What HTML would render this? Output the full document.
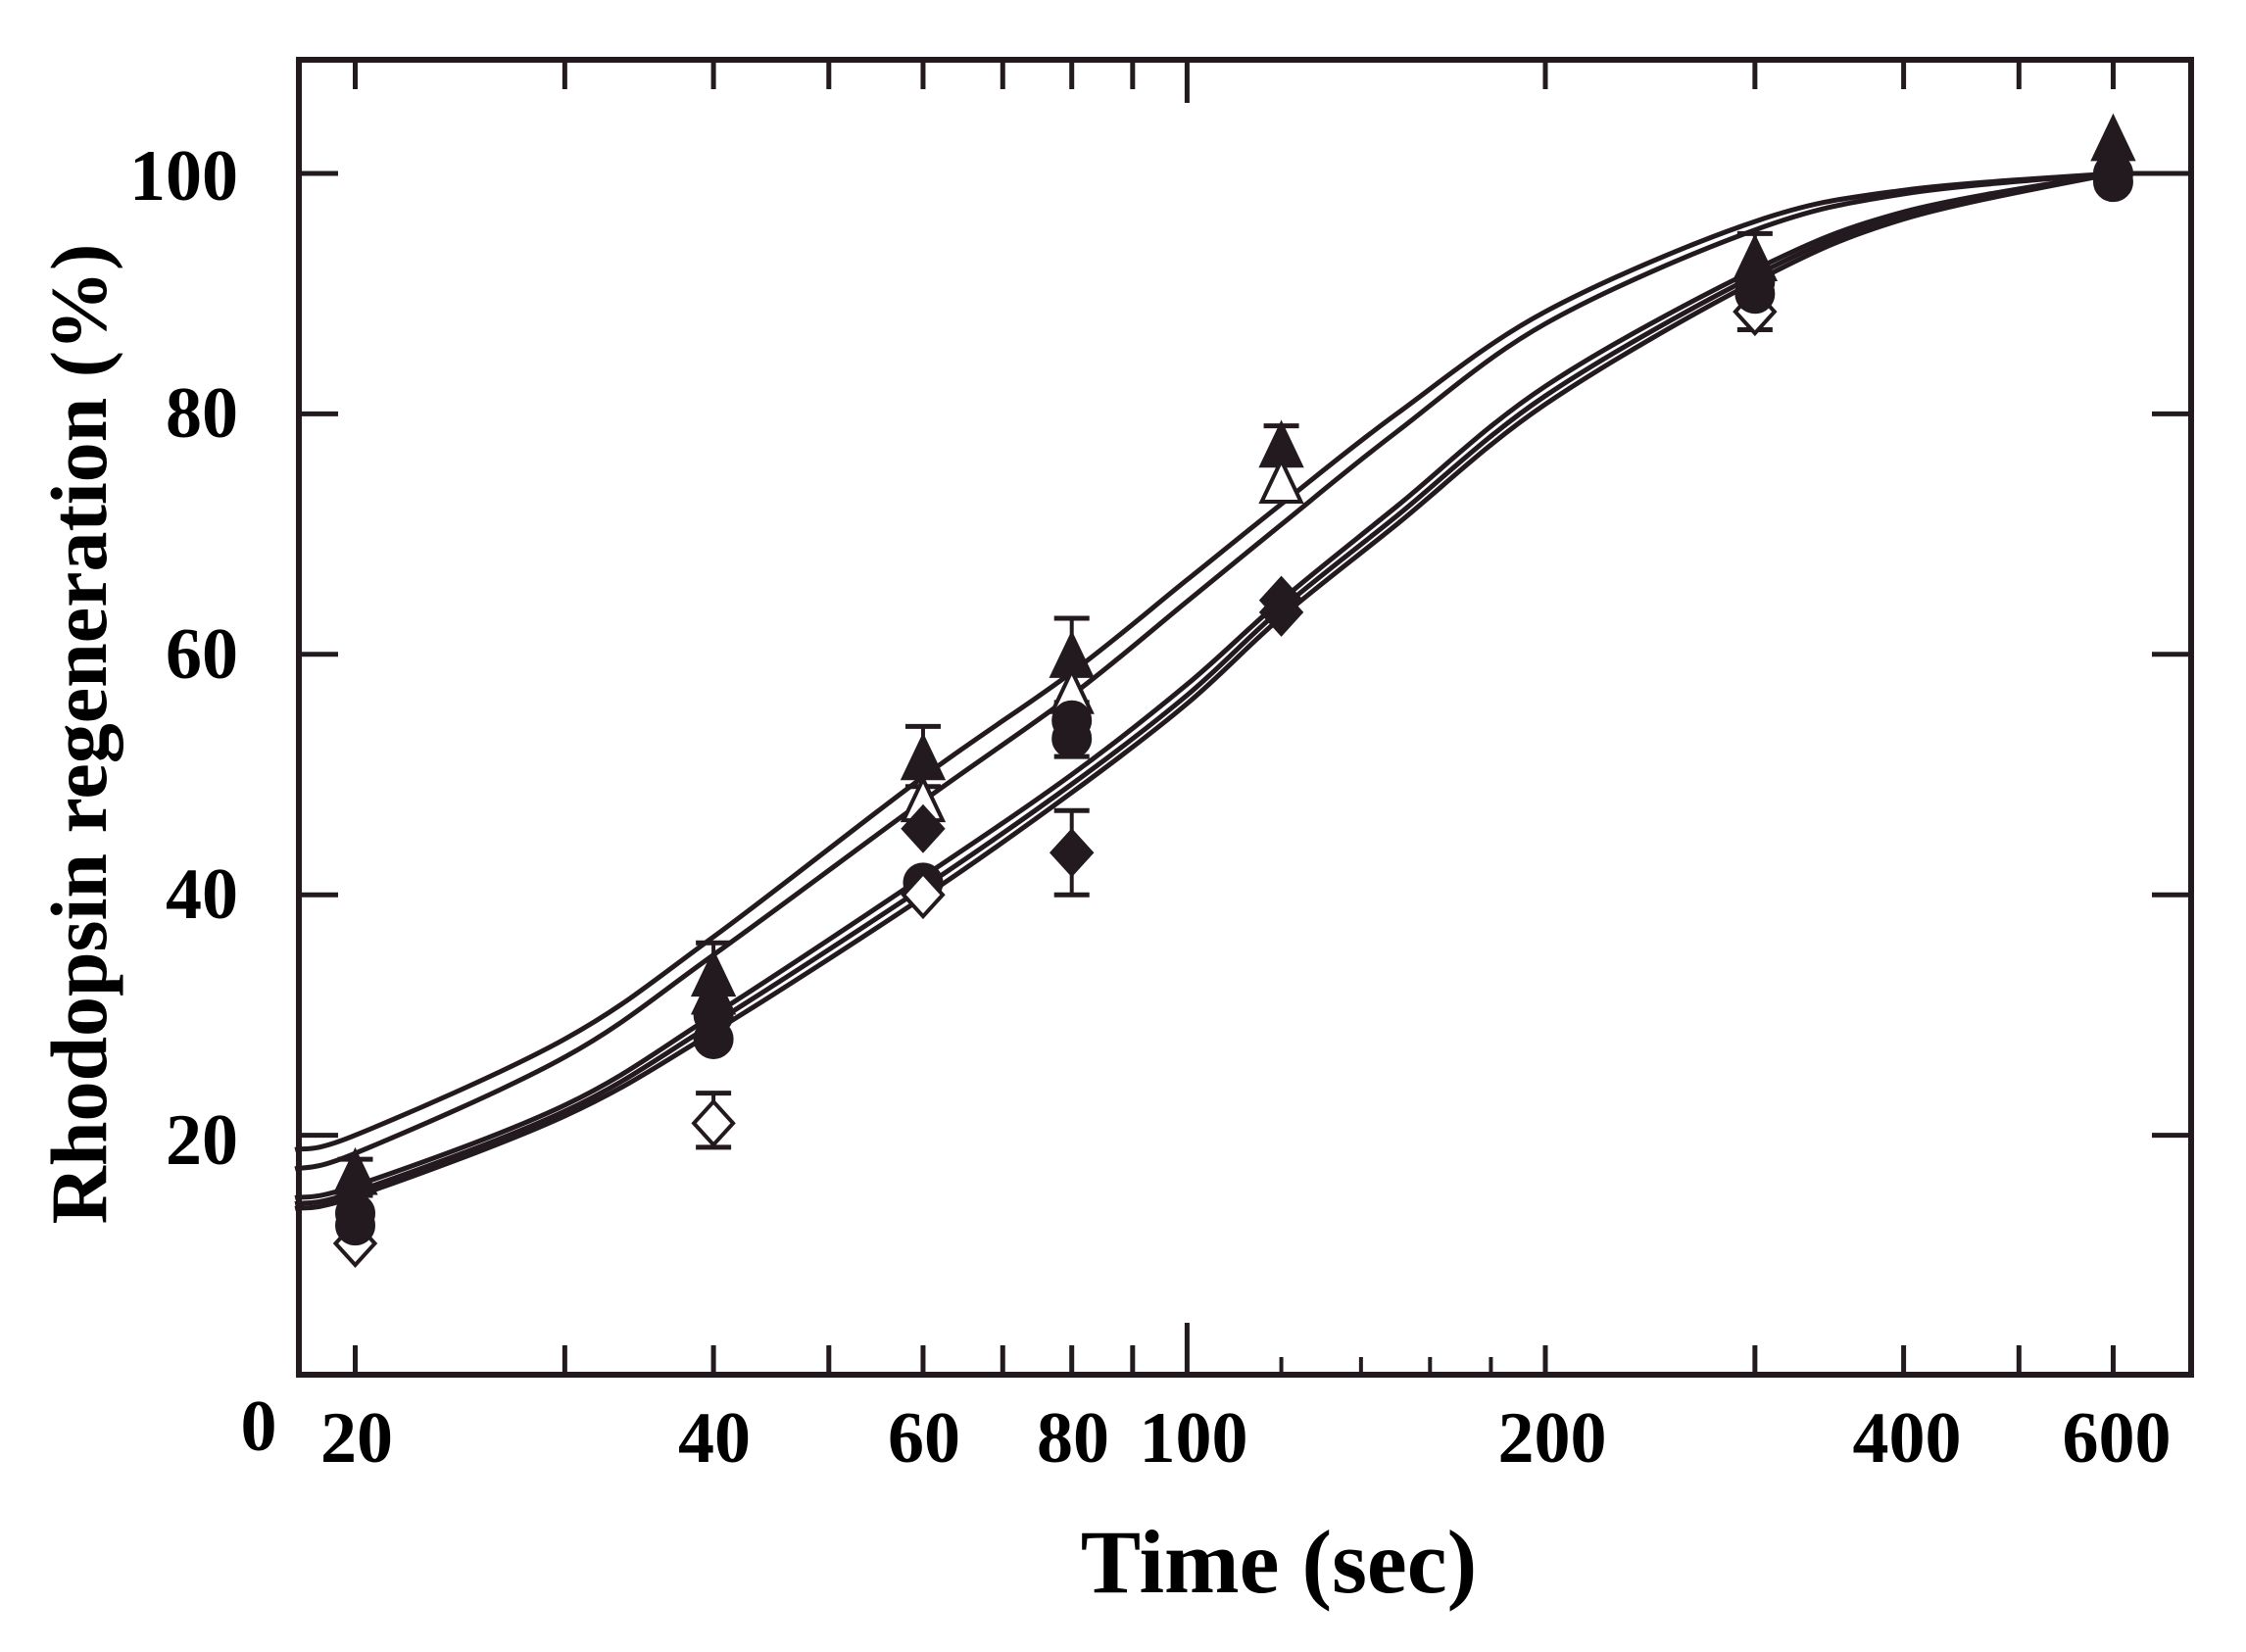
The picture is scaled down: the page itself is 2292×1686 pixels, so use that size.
<!DOCTYPE html>
<html><head><meta charset="utf-8"><style>
html,body{margin:0;padding:0;background:#fff}
svg{display:block}
text{font-family:"Liberation Serif",serif;font-weight:bold;fill:#000}
</style></head><body>
<svg id="s" width="2292" height="1686" viewBox="0 0 2292 1686" xmlns="http://www.w3.org/2000/svg">
<g id="plot" stroke="#231a20" fill="none"></g>
<g id="axes" stroke="#231a20" stroke-width="6" fill="none">
<rect x="305" y="61" width="1931" height="1342"/>
</g>
<g font-size="74" text-anchor="end">
<text x="243" y="204">100</text>
<text x="243" y="446">80</text>
<text x="243" y="692">60</text>
<text x="243" y="937">40</text>
<text x="243" y="1188">20</text>
</g>
<g font-size="74" text-anchor="middle">
<text x="264" y="1480">0</text>
<text x="364" y="1492">20</text>
<text x="729" y="1492">40</text>
<text x="943" y="1492">60</text>
<text x="1095" y="1492">80</text>
<text x="1218" y="1492">100</text>
<text x="1584" y="1492">200</text>
<text x="1946" y="1492">400</text>
<text x="2160" y="1492">600</text>
</g>
<text x="1305" y="1625" font-size="92" text-anchor="middle">Time (sec)</text>
<text transform="translate(108,749) rotate(-90)" font-size="82" text-anchor="middle">Rhodopsin regeneration (%)</text>
</svg>
<script>
var NS="http://www.w3.org/2000/svg";
function X(t){return 362.5+1214.5*Math.log10(t/20);}
function Y(v){return 1404-12.27*v;}
var plot=document.getElementById('plot'),axes=document.getElementById('axes');
function el(n,a,p){var e=document.createElementNS(NS,n);for(var k in a)e.setAttribute(k,a[k]);(p||plot).appendChild(e);return e;}
var xt=[20,30,40,50,60,70,80,90,200,300,400,500,600];
xt.forEach(function(t){var x=X(t);el('line',{x1:x,y1:1403,x2:x,y2:1373,'stroke-width':5},axes);el('line',{x1:x,y1:61,x2:x,y2:91,'stroke-width':5},axes);});
[120,140,160,180].forEach(function(t){var x=X(t);el('line',{x1:x,y1:1403,x2:x,y2:1385,'stroke-width':4},axes);});
var x100=X(100);el('line',{x1:x100,y1:1403,x2:x100,y2:1350,'stroke-width':5},axes);el('line',{x1:x100,y1:61,x2:x100,y2:105,'stroke-width':5},axes);
[20,40,60,80,100].forEach(function(v){var y=Y(v);el('line',{x1:305,y1:y,x2:345,y2:y,'stroke-width':5},axes);el('line',{x1:2236,y1:y,x2:2196,y2:y,'stroke-width':5},axes);});
function curve(T,V){
 var P=T.map(function(t,i){return [X(t),Y(V[i])];});
 var d='M'+P[0][0]+','+P[0][1];
 for(var i=0;i<P.length-1;i++){
  var p0=P[i-1]||P[i],p1=P[i],p2=P[i+1],p3=P[i+2]||P[i+1];
  var c1=[p1[0]+(p2[0]-p0[0])/6,p1[1]+(p2[1]-p0[1])/6],c2=[p2[0]-(p3[0]-p1[0])/6,p2[1]-(p3[1]-p1[1])/6];
  d+=' C'+c1+' '+c2+' '+p2;
 }
 d+=' L2236,'+P[P.length-1][1];
 el('path',{d:d,'stroke-width':5});
}
var T=[17.8,20,30,40,60,80,100,120,150,200,300,400,600];
curve(T,[18.8,20,28,36.5,49.8,58.5,66.2,72.5,80,88.5,96,98.6,100]);
curve(T,[17.2,18.5,26.5,35,47.8,56.6,64.4,70.8,78.5,87.5,95.3,98.3,100]);
curve(T,[14.8,15.8,22.5,30,41.5,50,57.5,64.5,72.3,82.3,92,96.8,100]);
curve(T,[14.3,15.3,22,29.3,40.6,49.2,56.6,63.8,71.5,81.5,91.5,96.5,100]);
curve(T,[13.9,14.9,21.6,28.6,39.8,48.5,55.9,63.1,70.8,80.8,91,96.2,100]);
function err(t,lo,hi){var x=X(t);el('line',{x1:x,y1:Y(lo),x2:x,y2:Y(hi),'stroke-width':4});el('line',{x1:x-18,y1:Y(hi),x2:x+18,y2:Y(hi),'stroke-width':5});el('line',{x1:x-18,y1:Y(lo),x2:x+18,y2:Y(lo),'stroke-width':5});}
function tri(t,v,f){var x=X(t),y=Y(v);el('polygon',{points:(x)+','+(y-26)+' '+(x-20)+','+(y+16)+' '+(x+20)+','+(y+16),fill:f?'#231a20':'#fff','stroke-width':4});}
function dia(t,v,f){var x=X(t),y=Y(v);el('polygon',{points:x+','+(y-22)+' '+(x+20)+','+y+' '+x+','+(y+22)+' '+(x-20)+','+y,fill:f?'#231a20':'#fff','stroke-width':4});}
function cir(t,v){el('circle',{cx:X(t),cy:Y(v),r:19,fill:'#231a20','stroke-width':3});}
err(20,15,18);tri(20,16.5,1);dia(20,11,0);cir(20,12.5);cir(20,13.5);
err(40,32,36);tri(40,33,1);tri(40,31.5,1);cir(40,30);cir(40,28);err(40,19,23.5);dia(40,21,0);
err(60,49,54);tri(60,51,1);tri(60,47.5,0);dia(60,45.5,1);cir(60,41);dia(60,40,0);
err(80,56,63);tri(80,59.5,1);tri(80,56.5,0);err(80,51.5,55);cir(80,54.5);cir(80,53);err(80,40,47);dia(80,43.5,1);
err(120,73,79);tri(120,77,1);tri(120,74,0);dia(120,64.5,1);dia(120,63.5,1);
err(300,87,95);dia(300,88.5,0);cir(300,91);tri(300,92.5,1);cir(300,90);
tri(600,102.5,1);cir(600,100);cir(600,99.3);
</script>
</body></html>
